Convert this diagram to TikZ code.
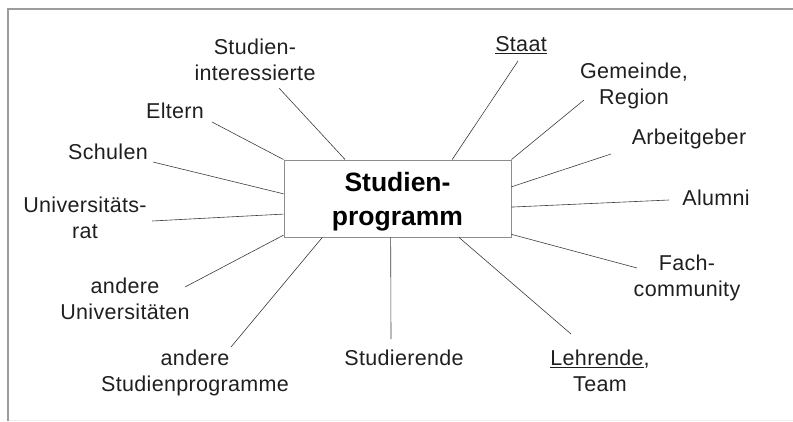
\documentclass[tikz,border=0pt]{standalone}
\usepackage{fontspec}
\setmainfont{Liberation Sans}
\newfontfamily\lblfont[LetterSpace=1.5]{Liberation Sans}
\usetikzlibrary{positioning,calc}
\definecolor{framegray}{HTML}{9C9C9C}
\definecolor{boxgray}{HTML}{8C8C8C}
\definecolor{linegray}{HTML}{3C3C3C}

\begin{document}
\begin{tikzpicture}[x=1bp,y=-1bp,
    lbl/.style={inner sep=0pt,align=center,text=black!88,
        font=\lblfont\fontsize{21.5bp}{26bp}\selectfont},
    con/.style={linegray,line width=0.6bp}]
    \useasboundingbox (0,0) rectangle (793,421);
    % frame
    \draw[framegray,line width=2.8bp] (8,421)--(8,9)--(793,9);
    \draw[black!6,line width=0.8bp] (9,420)--(793,420);
    % centre box
    \node[draw=boxgray,line width=0.9bp,minimum width=227bp,minimum height=77bp,
        align=center,text depth=0pt,font=\bfseries\fontsize{26.5bp}{34bp}\selectfont]
        (prog) at (397.5,198.5) {Studien-\\programm};
    % labels
    \node[lbl] (si) at (255,60) {Studien-\\interessierte};
    \node[lbl] (eltern) at (175,111) {Eltern};
    \node[lbl] (schulen) at (108,152) {Schulen};
    \node[lbl] (unirat) at (85,218) {Universitäts-\\rat};
    \node[lbl] (anduni) at (125,299) {andere\\Universitäten};
    \node[lbl] (andsp) at (195,373) {andere\\Studienprogramme};
    \node[lbl] (stud) at (404,358) {Studierende};
    \node[lbl] (lehr) at (600,371) {\underline{Lehrende},\\Team};
    \node[lbl] (fach) at (687,278) {Fach-\\community};
    \node[lbl] (alumni) at (716,198) {Alumni};
    \node[lbl] (arbeit) at (689,139) {Arbeitgeber};
    \node[lbl] (gem) at (634,86) {Gemeinde,\\Region};
    \node[lbl] (staat) at (521,45) {\underline{Staat}};
    % connectors
    \draw[con] ([shift={(24,28)}]si.center) -- ($(prog.north west)!0.27!(prog.north east)$);
    \draw[con] ([shift={(37,11)}]eltern.center) -- (prog.north west);
    \draw[con] ([shift={(45,10)}]schulen.center) -- ($(prog.north west)!0.44!(prog.south west)$);
    \draw[con] ([shift={(67,3)}]unirat.center) -- ($(prog.north west)!0.70!(prog.south west)$);
    \draw[con] ([shift={(60,-12)}]anduni.center) -- ($(prog.north west)!0.97!(prog.south west)$);
    \draw[con] ([shift={(36,-26)}]andsp.center) -- ($(prog.south west)!0.17!(prog.south east)$);
    \draw[con] ([shift={(-13,-19)}]stud.center) -- ($(prog.south west)!0.47!(prog.south east)$);
    \draw[con] ([shift={(-29,-37)}]lehr.center) -- ($(prog.south west)!0.77!(prog.south east)$);
    \draw[con] ([shift={(-50,-10)}]fach.center) -- ($(prog.north east)!0.96!(prog.south east)$);
    \draw[con] ([shift={(-47,2)}]alumni.center) -- ($(prog.north east)!0.61!(prog.south east)$);
    \draw[con] ([shift={(-78,15)}]arbeit.center) -- ($(prog.north east)!0.35!(prog.south east)$);
    \draw[con] ([shift={(-50,14)}]gem.center) -- (prog.north east);
    \draw[con] ([shift={(-3,16)}]staat.center) -- ($(prog.north west)!0.74!(prog.north east)$);
\end{tikzpicture}
\end{document}
